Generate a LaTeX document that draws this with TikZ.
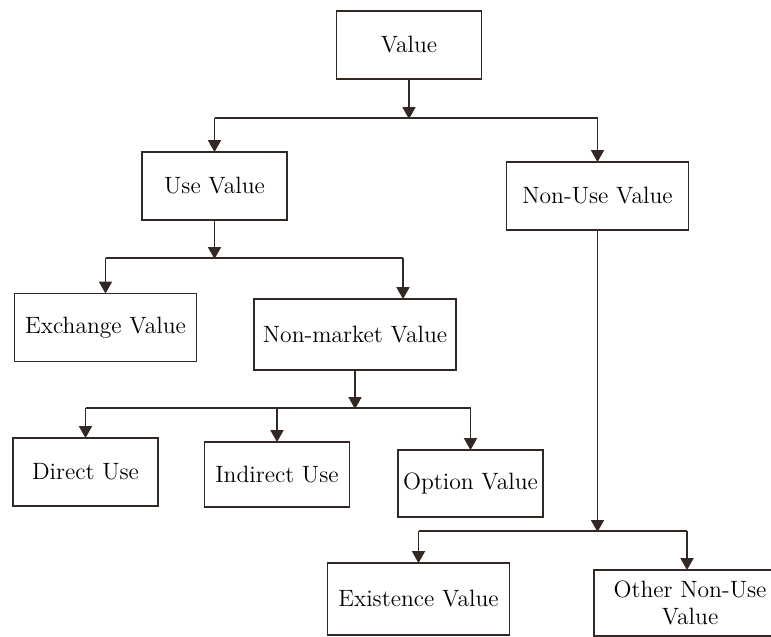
\documentclass[tikz,border=0pt]{standalone}
\usepackage{tikz}
\usetikzlibrary{arrows.meta, positioning, calc}

\definecolor{inkbrown}{RGB}{52,40,36}

\begin{document}
\begin{tikzpicture}[
    x=0.5pt, y=-0.5pt,
    box/.style={rectangle, draw=inkbrown, line width=0.9pt, minimum width=72.5pt, minimum height=34pt, inner sep=2pt, font=\fontsize{11.8}{13.5}\selectfont, align=center},
    widebox/.style={box, minimum width=91pt},
    link/.style={draw=inkbrown, line width=0.9pt},
    msg/.style={link, -{Triangle[width=6.5pt, length=6pt]}, shorten >=-0.5pt}
]
\useasboundingbox (0,0) rectangle (771,637);
\clip (0,0) rectangle (771,637);

% Boxes
\node[box] (value) at (409,45) {Value};
\node[box] (use) at (214.5,186) {Use Value};
\node[widebox] (nonuse) at (597.5,196) {Non-Use Value};
\node[widebox] (exch) at (105.5,327.5) {Exchange Value};
\node[box, minimum width=101pt, minimum height=35.5pt] (nmv) at (355,334.5) {Non-market Value};
\node[box] (direct) at (85.5,472) {Direct Use};
\node[box, minimum height=32.5pt] (indirect) at (277,474.5) {Indirect Use};
\node[box, minimum height=33.5pt] (option) at (470.5,483.5) {Option Value};
\node[widebox, minimum height=36pt] (exist) at (418.5,599) {Existence Value};
\node[box, minimum width=96pt, minimum height=33pt] (other) at (690,603) {Other Non-Use\\Value};

% Bus lines
\coordinate (j1) at (409,118);
\coordinate (j2) at (212,258);
\coordinate (j2r) at (403,258);
\coordinate (j3) at (353,408);
\coordinate (j4) at (597,531);
\coordinate (j4r) at (687,531);

% Value -> Use / Non-Use
\draw[msg] (value.south) -- (value.south |- j1);
\draw[link] (use.north |- j1) -- (nonuse.north |- j1);
\foreach \n in {use, nonuse} {
    \draw[msg] (\n.north |- j1) -- (\n.north);
}

% Use -> Exchange / Non-market
\draw[msg] (use.south) -- (use.south |- j2);
\draw[link] (exch.north |- j2) -- (j2r);
\draw[msg] (exch.north |- j2) -- (exch.north);
\draw[msg] (j2r) -- (j2r |- nmv.north);

% Non-market -> Direct / Indirect / Option
\draw[msg] (nmv.south) -- (nmv.south |- j3);
\draw[link] (direct.north |- j3) -- (option.north |- j3);
\foreach \n in {direct, indirect, option} {
    \draw[msg] (\n.north |- j3) -- (\n.north);
}

% Non-Use -> Existence / Other
\draw[msg] (nonuse.south) -- (nonuse.south |- j4);
\draw[link] (exist.north |- j4) -- (j4r);
\draw[msg] (exist.north |- j4) -- (exist.north);
\draw[msg] (j4r) -- (j4r |- other.north);
\end{tikzpicture}
\end{document}
